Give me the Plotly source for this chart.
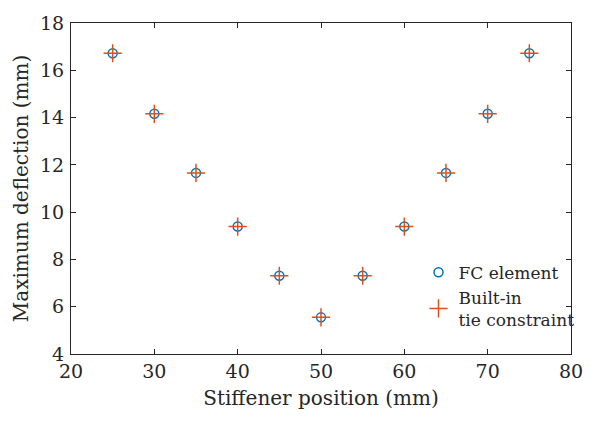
import plotly.graph_objects as go

positions = [25, 30, 35, 40, 45, 50, 55, 60, 65, 70, 75]
fc_element = [16.72, 14.16, 11.66, 9.39, 7.31, 5.55, 7.31, 9.39, 11.66, 14.16, 16.72]
builtin_tie = [16.72, 14.16, 11.66, 9.39, 7.31, 5.55, 7.31, 9.39, 11.66, 14.16, 16.72]
x_ticks = [20, 30, 40, 50, 60, 70, 80]
y_ticks = [4, 6, 8, 10, 12, 14, 16, 18]

font_family = "'DejaVu Serif', serif"

fig = go.Figure()
fig.add_trace(go.Scatter(
    x=positions, y=fc_element, mode="markers", name="FC element",
    marker=dict(symbol="circle-open", size=9, color="#0072BD",
                line=dict(width=1.5, color="#0072BD")),
))
fig.add_trace(go.Scatter(
    x=positions, y=builtin_tie, mode="markers", name="Built-in<br>tie constraint",
    marker=dict(symbol="cross-thin", size=13, color="#D95319",
                line=dict(width=1.5, color="#D95319")),
))

axis_common = dict(
    showline=True, linecolor="#262626", linewidth=1, mirror="ticks",
    ticks="inside", ticklen=5, tickcolor="#262626", showgrid=False, zeroline=False,
    tickfont=dict(family=font_family, size=19, color="#262626"),
)
fig.update_xaxes(range=[20, 80], tickvals=x_ticks,
                 title=dict(text="Stiffener position (mm)", standoff=10,
                            font=dict(family=font_family, size=20, color="#262626")),
                 **axis_common)
fig.update_yaxes(range=[4, 18], tickvals=y_ticks, ticklabelstandoff=2,
                 title=dict(text="Maximum deflection (mm)", standoff=6,
                            font=dict(family=font_family, size=20, color="#262626")),
                 **axis_common)

fig.update_layout(
    width=615, height=421,
    margin=dict(l=71, r=44, t=14, b=67),
    paper_bgcolor="white", plot_bgcolor="white",
    font=dict(family=font_family, color="#262626"),
    legend=dict(x=0.695, y=0.30, xanchor="left", yanchor="top",
                bgcolor="rgba(0,0,0,0)", borderwidth=0,
                font=dict(family=font_family, size=17, color="#262626"),
                tracegroupgap=5),
    showlegend=True,
)

fig.write_html("out.html")
